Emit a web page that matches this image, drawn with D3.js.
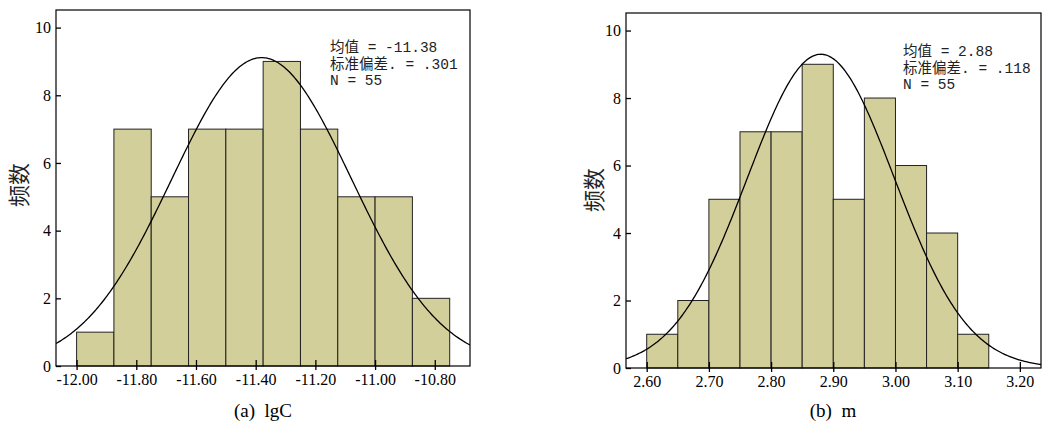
<!DOCTYPE html>
<html>
<head>
<meta charset="utf-8">
<script src="https://cdn.jsdelivr.net/npm/d3@7"></script>
<style>
  body { margin: 0; background: #fff; }
  svg { display: block; }
</style>
</head>
<body>
<div id="visualization"></div>
<script>
let w = 1045;
let h = 423;

// (a) lgC
let lgcBinStart = [-12.0, -11.875, -11.75, -11.625, -11.5, -11.375, -11.25, -11.125, -11.0, -10.875];
let lgcCounts = [1, 7, 5, 7, 7, 9, 7, 5, 5, 2];
let lgcTicks = [-12.0, -11.8, -11.6, -11.4, -11.2, -11.0, -10.8];
let lgcStats = ["均值 = -11.38", "标准偏差. = .301", "N = 55"];

// (b) m
let mBinStart = [2.60, 2.65, 2.70, 2.75, 2.80, 2.85, 2.90, 2.95, 3.00, 3.05, 3.10];
let mCounts = [1, 2, 5, 7, 7, 9, 5, 8, 6, 4, 1];
let mTicks = [2.6, 2.7, 2.8, 2.9, 3.0, 3.1, 3.2];
let mStats = ["均值 = 2.88", "标准偏差. = .118", "N = 55"];

let yTicks = [0, 2, 4, 6, 8, 10];

let viz = d3.select("#visualization")
  .append("svg")
  .attr("width", w)
  .attr("height", h);

function drawHist(cfg){
  let g = viz.append("g");
  let xScale = d3.scaleLinear().domain(cfg.xDomain).range([cfg.left, cfg.right]);
  let yScale = d3.scaleLinear().domain([0, 10.52]).range([cfg.bottom, cfg.top]);

  let clipId = "clip" + cfg.id;
  g.append("clipPath").attr("id", clipId)
    .append("rect")
    .attr("x", cfg.left).attr("y", cfg.top)
    .attr("width", cfg.right - cfg.left).attr("height", cfg.bottom - cfg.top);

  // bars
  g.selectAll(".bar").data(cfg.counts).enter()
    .append("rect")
    .attr("class", "bar")
    .attr("x", (d, i) => xScale(cfg.bins[i]))
    .attr("y", d => yScale(d))
    .attr("width", (d, i) => xScale(cfg.bins[i] + cfg.binW) - xScale(cfg.bins[i]))
    .attr("height", d => cfg.bottom - yScale(d))
    .attr("fill", "#d3cf9a")
    .attr("stroke", "#222")
    .attr("stroke-width", 1);

  // normal curve
  let n = d3.sum(cfg.counts);
  let pts = d3.range(cfg.xDomain[0], cfg.xDomain[1], (cfg.xDomain[1] - cfg.xDomain[0]) / 300)
    .concat([cfg.xDomain[1]]);
  let curve = pts.map(x => {
    let z = (x - cfg.mean) / cfg.sd;
    return [x, n * cfg.binW / (cfg.sd * Math.sqrt(2 * Math.PI)) * Math.exp(-0.5 * z * z)];
  });
  g.append("path")
    .datum(curve)
    .attr("clip-path", "url(#" + clipId + ")")
    .attr("fill", "none")
    .attr("stroke", "#000")
    .attr("stroke-width", 1.3)
    .attr("d", d3.line().x(d => xScale(d[0])).y(d => yScale(d[1])));

  // frame
  g.append("rect")
    .attr("x", cfg.left).attr("y", cfg.top)
    .attr("width", cfg.right - cfg.left).attr("height", cfg.bottom - cfg.top)
    .attr("fill", "none").attr("stroke", "#000").attr("stroke-width", 1.2);

  // axes
  let xAxis = d3.axisBottom(xScale).tickValues(cfg.ticks)
    .tickFormat(d => d3.format(".2f")(d).replace("−", "-"))
    .tickSizeInner(4).tickSizeOuter(0).tickPadding(4);
  let xg = g.append("g").attr("transform", "translate(0," + cfg.bottom + ")").call(xAxis);
  xg.select(".domain").remove();
  xg.selectAll(".tick line").attr("y1", -6).attr("stroke", "#000").attr("stroke-width", 1.3);
  xg.selectAll("text")
    .style("font-family", "'Liberation Serif', serif")
    .style("font-size", "16px")
    .style("fill", "#000");

  let yAxis = d3.axisLeft(yScale).tickValues(yTicks).tickSizeInner(3).tickSizeOuter(0).tickPadding(2);
  let yg = g.append("g").attr("transform", "translate(" + cfg.left + ",0)").call(yAxis);
  yg.select(".domain").remove();
  yg.selectAll(".tick line").attr("x2", 5).attr("stroke", "#000").attr("stroke-width", 1.3);
  yg.selectAll("text")
    .style("font-family", "'Liberation Serif', serif")
    .style("font-size", "16px")
    .style("fill", "#000");

  // y label
  g.append("text")
    .attr("transform", "translate(" + cfg.ylabX + "," + cfg.ylabY + ") rotate(-90)")
    .attr("text-anchor", "middle")
    .style("font-family", "'Noto Sans CJK SC'")
    .style("font-size", "22px")
    .style("fill", "#222")
    .text("频数");

  // stats text
  g.selectAll(".stat").data(cfg.stats).enter()
    .append("text")
    .attr("class", "stat")
    .attr("x", cfg.statX)
    .attr("y", (d, i) => cfg.statY + i * 16.5)
    .style("font-family", "'Liberation Mono', 'Noto Sans CJK SC', monospace")
    .style("font-size", "14.5px")
    .style("fill", "#222")
    .style("white-space", "pre")
    .text(d => d);

  // caption
  g.append("text")
    .attr("x", cfg.capX)
    .attr("y", 417)
    .attr("text-anchor", "middle")
    .style("font-family", "'Liberation Serif', serif")
    .style("font-size", "19px")
    .style("fill", "#000")
    .style("white-space", "pre")
    .text(cfg.caption);
}

drawHist({
  id: "a", bins: lgcBinStart, counts: lgcCounts, binW: 0.125, ticks: lgcTicks,
  xDomain: [-12.069, -10.682], mean: -11.38, sd: 0.301, stats: lgcStats,
  left: 56, right: 470, top: 10, bottom: 366, ylabX: 27, ylabY: 185,
  statX: 330, statY: 52, caption: "(a)  lgC", capX: 263
});

drawHist({
  id: "b", bins: mBinStart, counts: mCounts, binW: 0.05, ticks: mTicks,
  xDomain: [2.5667, 3.234], mean: 2.88, sd: 0.118, stats: mStats,
  left: 626, right: 1041, top: 13, bottom: 368, ylabX: 602, ylabY: 190,
  statX: 903, statY: 56, caption: "(b)  m", capX: 833
});
</script>
</body>
</html>
